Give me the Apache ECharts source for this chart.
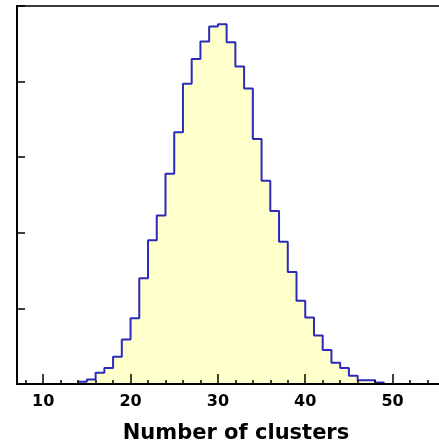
<!DOCTYPE html>
<html>
<head>
<meta charset="utf-8">
<title>Number of clusters</title>
<script src="https://cdn.jsdelivr.net/npm/echarts@6/dist/echarts.min.js"></script>
<style>
  html, body { margin: 0; padding: 0; background: #ffffff; overflow: hidden; }
  #chart { width: 439px; height: 444px; }
</style>
</head>
<body>
<div id="chart"></div>
<script>
// Histogram of the number of clusters per event (unit-width bins)
const binStarts = [14, 15, 16, 17, 18, 19, 20, 21, 22, 23, 24, 25, 26, 27, 28, 29, 30,
                   31, 32, 33, 34, 35, 36, 37, 38, 39, 40, 41, 42, 43, 44, 45, 46, 47, 48];
const binCounts = [3, 6, 15, 21, 36, 59, 87, 140, 190, 223, 278, 333, 397, 430, 453, 473, 476,
                   452, 420, 391, 324, 269, 229, 188, 148, 110, 88, 64, 45, 28, 21, 11, 5, 5, 2];

const xRange = [7, 56];
const yRange = [0, 500];
const majorTicks = [10, 20, 30, 40, 50];
const minorTicks = [8, 12, 14, 16, 18, 22, 24, 26, 28, 32, 34, 36, 38, 42, 44, 46, 48, 52, 54];
const xTitle = 'Number of clusters';

// Step outline: each point is a bin's left edge; closed with empty bins on both sides
const stepData = [[binStarts[0] - 1, 0]];
binStarts.forEach((x, i) => stepData.push([x, binCounts[i]]));
stepData.push([binStarts[binStarts.length - 1] + 1, 0]);

const labelFont = 'DejaVu Sans, Liberation Sans, Arial, sans-serif';

const chart = echarts.init(document.getElementById('chart'), null, { renderer: 'canvas' });
chart.setOption({
  animation: false,
  backgroundColor: '#ffffff',
  grid: {
    left: 17, top: 6, right: -6, bottom: 60,
    containLabel: false, outerBoundsMode: 'none',
    show: true, borderColor: '#3a3a3a', borderWidth: 2, backgroundColor: 'transparent'
  },
  xAxis: [
    {
      type: 'value', min: xRange[0], max: xRange[1], position: 'bottom', z: 5,
      axisLine: { show: true, onZero: false, lineStyle: { color: '#000', width: 2 } },
      axisTick: { show: true, inside: true, length: 10, customValues: majorTicks,
                  lineStyle: { color: '#000', width: 1.5 } },
      axisLabel: { show: true, customValues: majorTicks, margin: 10,
                   fontFamily: labelFont, fontWeight: 'bold', fontSize: 16, color: '#000' },
      splitLine: { show: false },
      name: xTitle, nameLocation: 'middle', nameGap: 39,
      nameTextStyle: { fontFamily: labelFont, fontWeight: 'bold', fontSize: 21, color: '#000',
                       padding: [0, 0, 0, 10] }
    },
    {
      type: 'value', min: xRange[0], max: xRange[1], position: 'bottom', z: 5,
      axisLine: { show: false },
      axisTick: { show: true, inside: true, length: 4, customValues: minorTicks,
                  lineStyle: { color: '#000', width: 1.5 } },
      axisLabel: { show: false },
      splitLine: { show: false }
    }
  ],
  yAxis: {
    type: 'value', min: yRange[0], max: yRange[1], interval: 100, z: 5,
    axisLine: { show: true, onZero: false, lineStyle: { color: '#000', width: 2 } },
    axisTick: { show: true, inside: true, length: 8, lineStyle: { color: '#000', width: 1.5 } },
    axisLabel: { show: false },
    splitLine: { show: false }
  },
  series: [{
    type: 'line',
    xAxisIndex: 0,
    step: 'end',
    data: stepData,
    symbol: 'none',
    lineStyle: { color: '#2b2bbb', width: 2 },
    areaStyle: { color: '#ffffcc', opacity: 1 }
  }]
});
</script>
</body>
</html>
